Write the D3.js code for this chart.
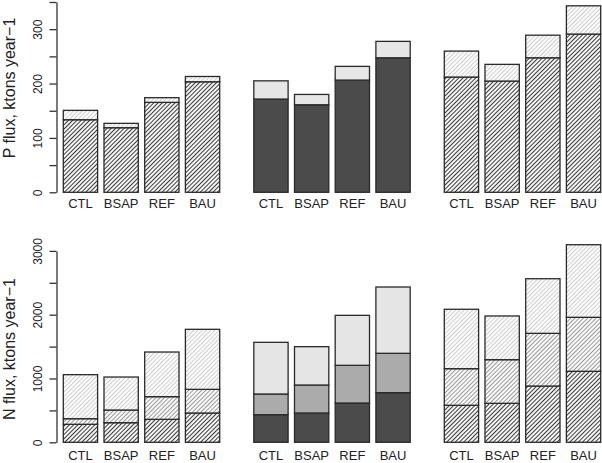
<!DOCTYPE html>
<html><head><meta charset="utf-8">
<script src="https://cdn.jsdelivr.net/npm/d3@7"></script>
<style>body{margin:0;background:#fff} text{font-family:"Liberation Sans",Arial,sans-serif;fill:#222}</style>
</head><body><svg id="c" width="602" height="463"></svg>
<script>
// ---------- data ----------
const categories = ["CTL","BSAP","REF","BAU"];
const groupIds = [0,1,2];
// P flux, ktons/yr : segments per group (bottom -> top)
const pLower = [[133.5,118.8,165.4,203.3],[171.5,161.0,206.4,247.4],[212.0,204.6,247.4,291.0]];
const pUpper = [[17.2,8.0,8.6,9.7],[33.5,19.0,25.2,30.2],[47.7,30.7,41.6,52.0]];
// N flux, ktons/yr : segments per group (bottom -> top)
const nBottom = [[282,307,360,459],[433,459,616,778],[580,611,882,1113]];
const nMiddle = [[88,199,355,371],[324,439,591,617],[574,684,826,846]];
const nTop    = [[690,517,700,941],[810,601,783,1039],[931,685,856,1138]];
const pTicks = [0,50,100,150,200,250,300,350];
const pTickLabels = ["0","","100","","200","","300",""];
const nTicks = [0,500,1000,1500,2000,2500,3000];
const nTickLabels = ["0","","1000","","2000","","3000"];
const pTitle = "P flux, ktons year\u22121";
const nTitle = "N flux, ktons year\u22121";

// ---------- styles ----------
const svg = d3.select("#c");
const defs = svg.append("defs");
function hatch(id, color){
  const p = defs.append("pattern").attr("id",id).attr("patternUnits","userSpaceOnUse")
    .attr("width",3).attr("height",3).attr("patternTransform","rotate(45)");
  p.append("rect").attr("width",3).attr("height",3).attr("fill","#fff");
  p.append("line").attr("x1",1.5).attr("x2",1.5).attr("y1",0).attr("y2",3)
    .attr("stroke",color).attr("stroke-width",1.1);
}
hatch("hDark","#3c3c3c");
hatch("hMid","#9a9a9a");
hatch("hLight","#cfcfcf");
// fills per group, per layer (bottom->top)
const pFills = [["url(#hDark)","url(#hLight)"],["#4b4b4b","#e6e6e6"],["url(#hDark)","url(#hLight)"]];
const nFills = [["url(#hDark)","url(#hMid)","url(#hLight)"],["#4b4b4b","#ababab","#e5e5e5"],["url(#hDark)","url(#hMid)","url(#hLight)"]];

const gx = d3.scaleBand().domain(groupIds).range([63.3,600.7]).paddingInner(0.179).paddingOuter(0);
const bx = d3.scaleBand().domain(categories).range([0,gx.bandwidth()]).paddingInner(0.157).paddingOuter(0);

function panel(y, layers, fills, ticks, tickLabels, labelY, title, titleY){
  const g = svg.append("g");
  groupIds.forEach(gi=>{
    const rows = categories.map((c,ci)=>{ const r={cat:c}; layers.forEach((L,li)=>r["s"+li]=L[gi][ci]); return r; });
    const keys = layers.map((L,li)=>"s"+li);
    const stacked = d3.stack().keys(keys)(rows);
    stacked.forEach((series,li)=>{
      g.selectAll(null).data(series).enter().append("rect")
        .attr("x",d=>gx(gi)+bx(d.data.cat))
        .attr("width",bx.bandwidth())
        .attr("y",d=>y(d[1]))
        .attr("height",d=>y(d[0])-y(d[1]))
        .attr("fill",fills[gi][li])
        .attr("stroke","#2a2a2a").attr("stroke-width",1.3);
    });
    g.selectAll(null).data(categories).enter().append("text")
      .attr("x",c=>gx(gi)+bx(c)+bx.bandwidth()/2)
      .attr("y",labelY).attr("text-anchor","middle").attr("font-size",13).text(c=>c);
  });
  const ax = g.append("g").attr("transform","translate(56.5,0)")
    .call(d3.axisLeft(y).tickValues(ticks).tickSize(7).tickSizeOuter(0)
      .tickFormat((d,i)=>tickLabels[i]));
  ax.select(".domain").attr("stroke","#333").attr("stroke-width",1.3);
  ax.selectAll(".tick line").attr("stroke","#333").attr("stroke-width",1.3);
  ax.selectAll(".tick text").attr("x",0).attr("dy",0).attr("text-anchor","middle")
    .attr("transform","translate(-15,0) rotate(-90)").attr("font-size",12)
    .attr("font-family","Liberation Sans, Arial, sans-serif").attr("fill","#222");
  g.append("text").attr("transform",`translate(15,${titleY}) rotate(-90)`)
    .attr("text-anchor","middle").attr("font-size",16).text(title);
}

const yP = d3.scaleLinear().domain([0,350]).range([192.3,2.0]);
const yN = d3.scaleLinear().domain([0,3000]).range([442.3,250.9]);
panel(yP,[pLower,pUpper],pFills,pTicks,pTickLabels,208.3,pTitle,88);
panel(yN,[nBottom,nMiddle,nTop],nFills,nTicks,nTickLabels,460,nTitle,349);
</script></body></html>
